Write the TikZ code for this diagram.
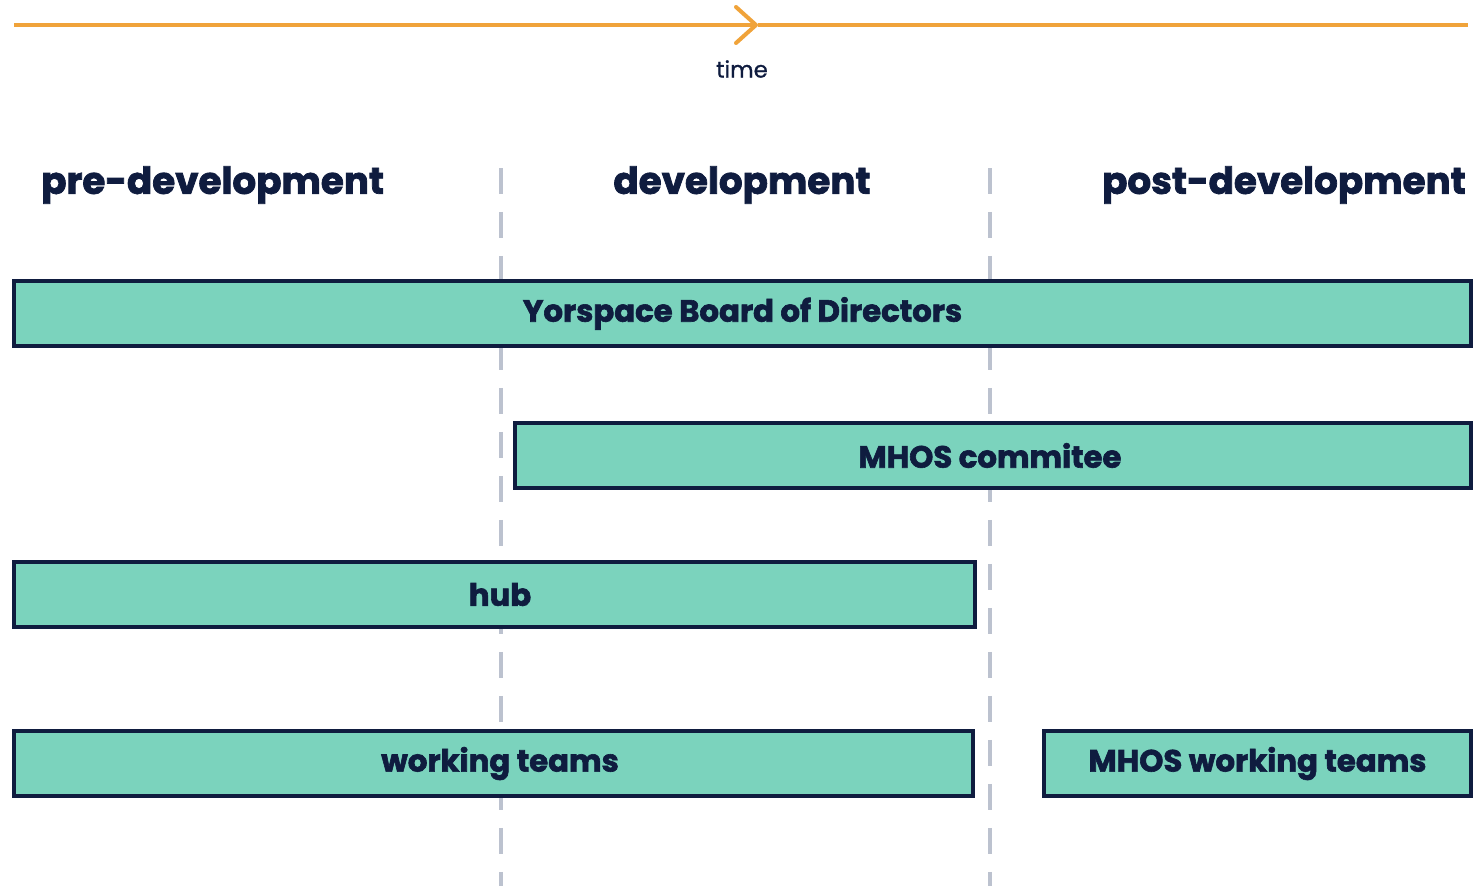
\documentclass[tikz,border=0pt]{standalone}
\usepackage{fontspec}
\setmainfont{Poppins}[BoldFeatures={FakeBold=2}]
\usetikzlibrary{arrows.meta}
\definecolor{navy}{HTML}{0F1C3F}
\definecolor{teal}{HTML}{7BD3BD}
\definecolor{amber}{HTML}{F0A33A}
\definecolor{phase}{HTML}{BCC2CF}
\tikzstyle{bar}=[rectangle,draw=navy,fill=teal,line width=4*0.02cm,minimum height=1.3cm,inner sep=0pt]
\tikzstyle{lbl}=[text=navy,font=\fontsize{17.5}{20}\selectfont\bfseries]
\tikzstyle{hdr}=[text=navy,font=\fontsize{21.2}{24}\selectfont\bfseries]
\tikzstyle{sep}=[draw=phase,line width=4*0.02cm,dash pattern=on 0.52cm off 0.36cm]

\begin{document}
\begin{tikzpicture}[x=0.02cm,y=-0.02cm]
\useasboundingbox (0,0) rectangle (1484,886);
% time axis
\coordinate (t0) at (14,25); \coordinate (tm) at (758,25); \coordinate (t1) at (1468,25);
\draw[draw=amber,line width=4*0.02cm,-{Straight Barb[length=0.4cm,width=0.72cm,round]}] (t0) -- (tm);
\draw[draw=amber,line width=4*0.02cm] (tm) -- (t1);
\node[text=navy,font=\fontsize{13}{15}\selectfont\addfontfeature{FakeBold=0.8}] (time) at (742,69) {time};
% phase separators
\draw[sep] (501,168) -- (501,886);
\draw[sep] (990,168) -- (990,886);
\node[hdr,anchor=west] (pre) at (35,185) {pre-development};
\node[hdr] (dev) at (742,185) {development};
\node[hdr,anchor=east] (post) at (1472,185) {post-development};
% bars
\node[bar,minimum width=29.14cm] (board) at (742.5,313.5) {};
\node[lbl] at (board) {Yorspace Board of Directors};
\node[bar,minimum width=19.12cm] (mhos) at (993,455.5) {};
\node[lbl] at (990,455.5) {MHOS commitee};
\node[bar,minimum width=19.22cm] (hub) at (494.5,594.5) {};
\node[lbl] at (500,594.5) {hub};
\node[bar,minimum width=19.18cm] (teams) at (493.5,763.5) {};
\node[lbl] at (500,763.5) {working teams};
\node[bar,minimum width=8.54cm] (mteams) at (1257.5,763.5) {};
\node[lbl] at (mteams) {MHOS working teams};
\end{tikzpicture}
\end{document}
